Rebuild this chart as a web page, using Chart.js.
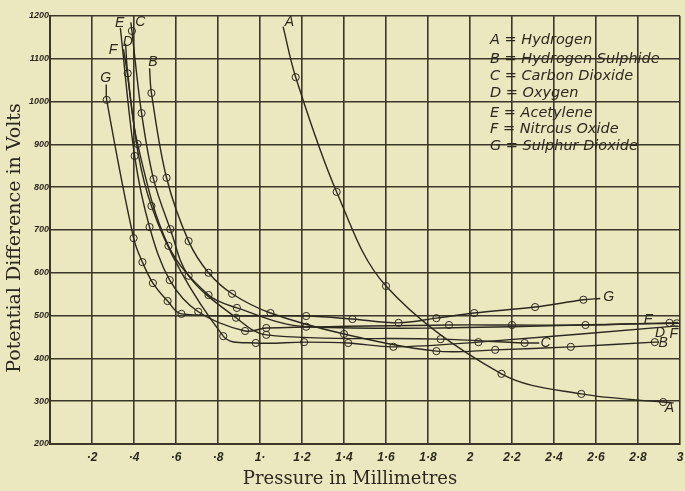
<!DOCTYPE html>
<html>
<head>
<meta charset="utf-8">
<script src="https://cdn.jsdelivr.net/npm/chart.js@4.4.1/dist/chart.umd.min.js"></script>
<style>
  html, body { margin: 0; padding: 0; background: #ebe8bf; }
  #wrap { width: 685px; height: 491px; }
</style>
</head>
<body>
<div id="wrap"><canvas id="chart" width="685" height="491"></canvas></div>
<script>
const gasLetters = ['A', 'B', 'C', 'D', 'E', 'F', 'G'];
const gasNames = ['Hydrogen', 'Hydrogen Sulphide', 'Carbon Dioxide', 'Oxygen', 'Acetylene', 'Nitrous Oxide', 'Sulphur Dioxide'];

// observed points (the small circles): pressure in mm, potential difference in volts
const pressureA = [1.17, 1.365, 1.6, 2.15, 2.53, 2.92];
const voltsA = [1057, 789, 569, 364, 317, 298];
const pressureB = [0.483, 0.555, 0.66, 0.755, 0.867, 1.05, 1.40, 1.84, 2.12, 2.48, 2.88];
const voltsB = [1020, 822, 674, 600, 551, 506, 457, 417, 420, 427, 438];
const pressureC = [0.39, 0.436, 0.493, 0.573, 0.66, 0.886, 1.03, 1.86, 2.26];
const voltsC = [1165, 973, 819, 702, 593, 495, 455, 445, 436];
const pressureD = [0.37, 0.417, 0.564, 0.755, 0.89, 1.22, 2.985];
const voltsD = [1066, 901, 663, 548, 518, 474, 482];
const pressureE = [0.403, 0.474, 0.57, 0.706, 0.929, 1.03, 1.9, 2.2, 2.55, 2.95];
const voltsE = [873, 707, 583, 509, 464, 471, 478, 478, 478, 483];
const pressureF = [0.483, 0.825, 0.98, 1.21, 1.42, 1.635, 2.04];
const voltsF = [756, 452, 436, 438, 436, 427, 438];
const pressureG = [0.27, 0.398, 0.44, 0.49, 0.56, 0.626, 1.22, 1.44, 1.66, 1.84, 2.02, 2.31, 2.54];
const voltsG = [1004, 681, 625, 576, 534, 504, 499, 492, 483, 494, 506, 520, 537];

// where each hand-drawn curve begins and ends (no circle there)
const curveStartP = [1.11, 0.474, 0.385, 0.36, 0.335, 0.35, 0.268];
const curveStartV = [1175, 1078, 1185, 1135, 1172, 1122, 1040];
const curveEndP = [2.97, 2.9, 2.33, 3.0, 2.99, 2.99, 2.62];
const curveEndV = [296, 438, 436, 482, 484, 476, 540];

const xTickText = ['', '·2', '·4', '·6', '·8', '1·', '1·2', '1·4', '1·6', '1·8', '2', '2·2', '2·4', '2·6', '2·8', '3'];
const yTickText = ['200', '300', '400', '500', '600', '700', '800', '900', '1000', '1100', '1200'];

const pressures = [pressureA, pressureB, pressureC, pressureD, pressureE, pressureF, pressureG];
const volts = [voltsA, voltsB, voltsC, voltsD, voltsE, voltsF, voltsG];

const ink = '#2b2820';
const gridInk = '#3a3629';

const datasets = [];
gasLetters.forEach((g, i) => {
  const obs = pressures[i].map((p, k) => ({ x: p, y: volts[i][k] }));
  datasets.push({
    label: g,
    data: [{ x: curveStartP[i], y: curveStartV[i] }, ...obs, { x: curveEndP[i], y: curveEndV[i] }],
    borderColor: ink,
    borderWidth: 1.4,
    pointRadius: 0,
    tension: 0.35,
    fill: false
  });
  datasets.push({
    label: g + ' observed',
    data: obs,
    showLine: false,
    pointRadius: 3.6,
    pointBorderWidth: 1,
    pointBorderColor: ink,
    pointBackgroundColor: 'rgba(0,0,0,0)'
  });
});

// letters next to the curve ends, in data units
const letterTopP = [1.14, 0.49, 0.43, 0.37, 0.332, 0.30, 0.265];
const letterTopV = [1186, 1093, 1186, 1139, 1184, 1121, 1055];
const letterEndP = [2.95, 2.92, 2.36, 2.905, 2.85, 2.97, 2.66];
const letterEndV = [284, 436, 436, 459, 490, 457, 544];

const notes = {
  id: 'notes',
  afterDatasetsDraw(chart) {
    const { ctx, chartArea: a, scales: { x, y } } = chart;
    ctx.save();
    ctx.fillStyle = ink;
    ctx.textAlign = 'center';
    ctx.textBaseline = 'middle';
    ctx.font = 'italic 14px "Liberation Sans"';
    gasLetters.forEach((g, i) => {
      ctx.fillText(g, x.getPixelForValue(letterTopP[i]), y.getPixelForValue(letterTopV[i]));
      ctx.fillText(g, x.getPixelForValue(letterEndP[i]), y.getPixelForValue(letterEndV[i]));
    });

    // key in the upper right
    ctx.textAlign = 'left';
    ctx.font = 'italic 14.5px "DejaVu Sans"';
    const rowY = [40, 59, 76, 93, 113, 129, 146];
    gasLetters.forEach((g, i) => {
      ctx.fillText(g + ' = ' + gasNames[i], a.right - 190, rowY[i]);
    });

    // axis titles
    ctx.font = '18px "DejaVu Serif"';
    ctx.textAlign = 'center';
    ctx.fillText('Pressure in Millimetres', 350, 479);
    ctx.font = '19px "DejaVu Serif"';
    ctx.translate(15, 238);
    ctx.rotate(-Math.PI / 2);
    ctx.fillText('Potential Difference in Volts', 0, 0);
    ctx.restore();
  }
};

new Chart(document.getElementById('chart'), {
  type: 'line',
  data: { datasets },
  options: {
    responsive: false,
    animation: false,
    layout: { padding: { top: 16, right: 2, left: 0, bottom: 0 } },
    plugins: { legend: { display: false }, tooltip: { enabled: false } },
    scales: {
      x: {
        type: 'linear',
        min: 0,
        max: 3,
        afterFit(s) { s.height = 47; s.paddingLeft = 0; s.paddingRight = 0; },
        grid: { color: gridInk, lineWidth: 1.6, drawTicks: false },
        border: { color: gridInk, width: 2 },
        ticks: {
          stepSize: 0.2,
          autoSkip: false,
          maxRotation: 0,
          padding: 6,
          color: ink,
          font: { family: '"Liberation Sans"', size: 12, style: 'italic', weight: 'bold' },
          callback: v => xTickText[Math.round(v * 5)]
        }
      },
      y: {
        min: 200,
        max: 1200,
        afterFit(s) { s.width = 50; s.paddingTop = 0; s.paddingBottom = 0; },
        grid: { color: gridInk, lineWidth: 1.6, drawTicks: false },
        border: { color: gridInk, width: 2 },
        ticks: {
          stepSize: 100,
          padding: 1,
          color: ink,
          font: { family: '"Liberation Sans"', size: 9, style: 'italic', weight: 'bold' },
          callback: v => yTickText[Math.round((v - 200) / 100)]
        }
      }
    }
  },
  plugins: [notes]
});
</script>
</body>
</html>
